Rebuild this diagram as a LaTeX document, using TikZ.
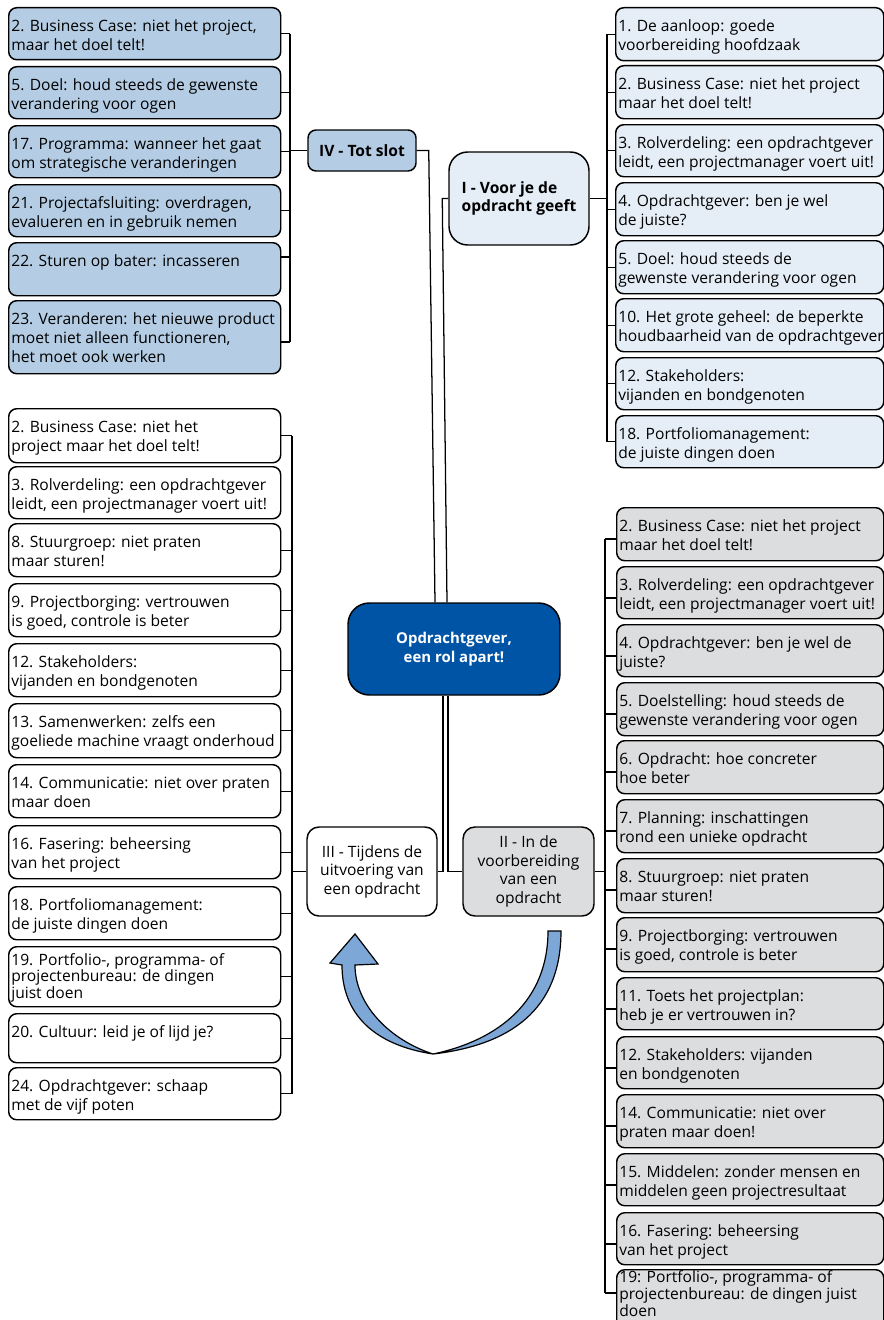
\documentclass[tikz,border=0pt]{standalone}
\usepackage{fontspec}
\setmainfont{Open Sans}
\usetikzlibrary{calc}
\definecolor{ivfill}{RGB}{180,205,228}
\definecolor{ifill}{RGB}{229,238,247}
\definecolor{iifill}{RGB}{220,221,223}
\definecolor{cfill}{RGB}{0,84,166}
\definecolor{arrfill}{RGB}{125,167,215}
\newcommand\boxfont{\fontsize{11.7}{13.9}\selectfont}
\newcommand\tl[1]{\begin{tabular}[t]{@{}l@{}}#1\end{tabular}}
\newcommand\mybox[7][]{%
  \node[itembox,#6,minimum height=#5*0.75pt] (#2) at (#3,#4) {};
  \node[itemtxt,#1] (#2t) at ([xshift=2.3pt,yshift=-8.8pt]#2.north west) {\tl{#7}};}
\tikzset{
  itembox/.style={draw,line width=1.1pt,rounded corners=6pt,inner sep=0pt,anchor=north west},
  itemtxt/.style={anchor=north west,inner sep=0pt,font=\boxfont},
  gIV/.style={fill=ivfill,minimum width=204pt},
  gI/.style={fill=ifill,minimum width=201pt},
  gIII/.style={fill=white,minimum width=204pt},
  gII/.style={fill=iifill,minimum width=200.25pt},
  catbox/.style={draw,line width=1.1pt,inner sep=0pt,font=\boxfont},
  conn/.style={line width=0.95pt},
  tight/.style={execute at begin node={\def\arraystretch{0.86}}}
}
\begin{document}
\begin{tikzpicture}[x=0.75pt,y=-0.75pt]
\useasboundingbox (0,0) rectangle (884,1320);

% ---------- IV group ----------
\mybox{a1}{8}{7}{52}{gIV}{2. Business Case: niet het project,\\maar het doel telt!}
\mybox{a2}{8}{66}{52}{gIV}{5. Doel: houd steeds de gewenste\\verandering voor ogen}
\mybox{a3}{8}{125}{52}{gIV}{17. Programma: wanneer het gaat\\om strategische veranderingen}
\mybox{a4}{8}{184}{52}{gIV}{21. Projectafsluiting: overdragen,\\evalueren en in gebruik nemen}
\mybox{a5}{8}{242}{53}{gIV}{22. Sturen op bater: incasseren}
\mybox{a6}{8}{300}{73}{gIV}{23. Veranderen: het nieuwe product\\moet niet alleen functioneren,\\het moet ook werken}

% ---------- I group ----------
\mybox{b1}{615}{7}{53}{gI}{1. De aanloop: goede\\voorbereiding hoofdzaak}
\mybox{b2}{615}{65}{53}{gI}{2. Business Case: niet het project\\maar het doel telt!}
\mybox{b3}{615}{124}{52}{gI}{3. Rolverdeling: een opdrachtgever\\leidt, een projectmanager voert uit!}
\mybox{b4}{615}{182}{53}{gI}{4. Opdrachtgever: ben je wel\\de juiste?}
\mybox{b5}{615}{240}{53}{gI}{5. Doel: houd steeds de\\gewenste verandering voor ogen}
\mybox{b6}{615}{298}{53}{gI}{10. Het grote geheel: de beperkte\\houdbaarheid van de opdrachtgever}
\mybox{b7}{615}{357}{52}{gI}{12. Stakeholders:\\vijanden en bondgenoten}
\mybox{b8}{615}{415}{52}{gI}{18. Portfoliomanagement:\\de juiste dingen doen}

% ---------- III group ----------
\mybox{c1}{8}{408}{54}{gIII}{2. Business Case: niet het\\project maar het doel telt!}
\mybox{c2}{8}{466}{52}{gIII}{3. Rolverdeling: een opdrachtgever\\leidt, een projectmanager voert uit!}
\mybox{c3}{8}{523}{53}{gIII}{8. Stuurgroep: niet praten\\maar sturen!}
\mybox{c4}{8}{583}{53}{gIII}{9. Projectborging: vertrouwen\\is goed, controle is beter}
\mybox{c5}{8}{643}{53}{gIII}{12. Stakeholders:\\vijanden en bondgenoten}
\mybox{c6}{8}{703}{54}{gIII}{13. Samenwerken: zelfs een\\goeliede machine vraagt onderhoud}
\mybox{c7}{8}{764}{53}{gIII}{14. Communicatie: niet over praten\\maar doen}
\mybox{c8}{8}{825}{53}{gIII}{16. Fasering: beheersing\\van het project}
\mybox{c9}{8}{886}{53}{gIII}{18. Portfoliomanagement:\\de juiste dingen doen}
\mybox[tight,yshift=3.5pt]{c10}{8}{946}{60}{gIII}{19. Portfolio-, programma- of\\projectenbureau: de dingen\\juist doen}
\mybox{c11}{8}{1013}{49}{gIII}{20. Cultuur: leid je of lijd je?}
\mybox{c12}{8}{1067}{52}{gIII}{24. Opdrachtgever: schaap\\met de vijf poten}

% ---------- II group ----------
\mybox{d1}{616}{507}{53}{gII}{2. Business Case: niet het project\\maar het doel telt!}
\mybox{d2}{616}{566}{52}{gII}{3. Rolverdeling: een opdrachtgever\\leidt, een projectmanager voert uit!}
\mybox{d3}{616}{624}{52}{gII}{4. Opdrachtgever: ben je wel de\\juiste?}
\mybox{d4}{616}{682}{53}{gII}{5. Doelstelling: houd steeds de\\gewenste verandering voor ogen}
\mybox{d5}{616}{740}{53}{gII}{6. Opdracht: hoe concreter\\hoe beter}
\mybox{d6}{616}{799}{53}{gII}{7. Planning: inschattingen\\rond een unieke opdracht}
\mybox{d7}{616}{858}{54}{gII}{8. Stuurgroep: niet praten\\maar sturen!}
\mybox{d8}{616}{917}{54}{gII}{9. Projectborging: vertrouwen\\is goed, controle is beter}
\mybox{d9}{616}{977}{52}{gII}{11. Toets het projectplan:\\heb je er vertrouwen in?}
\mybox{d10}{616}{1036}{52}{gII}{12. Stakeholders: vijanden\\en bondgenoten}
\mybox{d11}{616}{1094}{53}{gII}{14. Communicatie: niet over\\praten maar doen!}
\mybox{d12}{616}{1153}{52}{gII}{15. Middelen: zonder mensen en\\middelen geen projectresultaat}
\mybox{d13}{616}{1212}{52}{gII}{16. Fasering: beheersing\\van het project}
\mybox[tight,yshift=7.5pt]{d14}{616}{1269}{72}{gII}{19: Portfolio-, programma- of\\projectenbureau: de dingen juist\\doen}

% ---------- category nodes ----------
\node[catbox,fill=ivfill,rounded corners=6pt,minimum width=108*0.75pt,minimum height=41*0.75pt,font=\boxfont\bfseries] (iv) at (362,150.5) {IV - Tot slot};
\node[catbox,fill=ifill,rounded corners=14pt,minimum width=140*0.75pt,minimum height=93*0.75pt,align=left,font=\boxfont\bfseries] (inode) at (519,198.5) {I - Voor je de\\opdracht geeft};
\node[catbox,fill=cfill,rounded corners=16pt,minimum width=212*0.75pt,minimum height=92*0.75pt,align=center,text=white,font=\fontsize{11.2}{13.9}\selectfont\bfseries] (center) at (454,649) {Opdrachtgever,\\een rol apart!};
\node[catbox,fill=white,rounded corners=9pt,minimum width=130*0.75pt,minimum height=89*0.75pt,align=center] (iii) at (372,871.5) {III - Tijdens de\\uitvoering van\\een opdracht};
\node[catbox,fill=iifill,rounded corners=9pt,minimum width=131*0.75pt,minimum height=89*0.75pt,align=center] (ii) at (528.5,871.5) {II - In de\\voorbereiding\\van een\\opdracht};

% ---------- connectors: IV ----------
\coordinate (xIV) at (290,0);
\coordinate (a5p) at ($(a5.north east)+(0,15)$);
\coordinate (a6p) at ($(a6.north east)+(0,42)$);
\foreach \n in {a1,a2,a3,a4} \draw[conn] (\n.east) -- (\n.east -| xIV);
\draw[conn] (a5p) -- (a5p -| xIV);
\draw[conn] (a6p) -- (a6p -| xIV);
\draw[conn] (a1.east -| xIV) -- (a6p -| xIV);
\draw[conn] (iv.west) -- (iv.west -| xIV);

% ---------- connectors: I ----------
\coordinate (xI) at (607,0);
\foreach \n in {b1,b2,b3,b4,b5,b6,b7,b8} \draw[conn] (\n.west) -- (\n.west -| xI);
\draw[conn] (b1.west -| xI) -- (b8.west -| xI);
\draw[conn] (inode.east) -- (inode.east -| xI);

% ---------- connectors: III ----------
\coordinate (xIII) at (292,0);
\foreach \n in {c1,c3,c4,c5,c6,c7,c8,c9,c10,c11,c12} \draw[conn] (\n.east) -- (\n.east -| xIII);
\draw[conn] (c1.east -| xIII) -- (c12.east -| xIII);
\draw[conn] (iii.west) -- (iii.west -| xIII);

% ---------- connectors: II ----------
\coordinate (xII) at (605,0);
\foreach \n in {d1,d2,d3,d4,d5,d6,d7,d8,d9,d10,d11,d12,d13} {
  \coordinate (\n p) at ($(\n.north west)+(0,32)$);
  \draw[conn] (\n p) -- (\n p -| xII);
}
\coordinate (d14p) at ($(d14.north west)+(0,24)$);
\draw[conn] (d14p) -- (d14p -| xII);
\draw[conn] (d1p -| xII) -- (d14p -| xII);
\draw[conn] (ii.east) -- (ii.east -| xII);

% ---------- connectors: centre ----------
\draw[conn] (iv.east) -- ++(12,0) -- ($(center.north)+(-19,0)$);
\draw[conn] (inode.west) -- ++(-6,0) -- ($(center.north)+(-7,0)$);
\draw[conn] ($(center.south)+(-11,0)$) |- (iii.east);
\draw[conn] ($(center.south)+(-6,0)$) |- (ii.west);

% ---------- curved arrow ----------
\draw[line width=0.9pt,fill=arrfill,line join=miter]
  (561,931) .. controls (561,1010) and (510,1045) .. (433,1054)
  .. controls (375,1045) and (342,1015) .. (342,965)
  -- (330,963) -- (355,934) -- (378,964) -- (355,965)
  .. controls (355,1005) and (390,1040) .. (433,1054)
  .. controls (500,1040) and (548,1000) .. (548,931) -- cycle;
\end{tikzpicture}
\end{document}
